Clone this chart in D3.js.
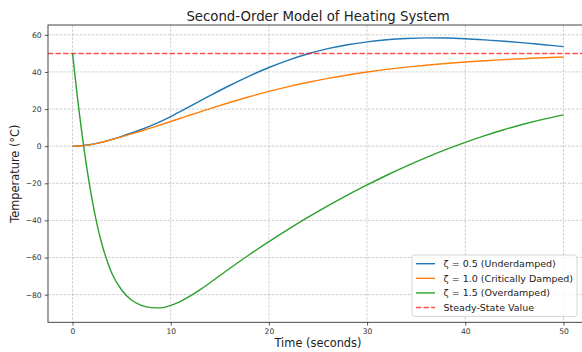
<!DOCTYPE html>
<html>
<head>
<meta charset="utf-8">
<script src="https://cdn.jsdelivr.net/npm/d3@7"></script>
<style>
	body{margin:0;background:#fff;}
	svg{display:block;font-family:"DejaVu Sans",sans-serif;}
</style>
</head>
<body onload="init()">
<svg id="grafica" width="582" height="352"></svg>
<script>
/*
	Modelo de segundo orden del sistema de calefaccion
*/

// tiempo (s)
var tiempo = [0, 0.5, 1, 1.5, 2, 2.5, 3, 3.5, 4, 5, 6, 7, 8, 9, 10, 11, 12, 13, 14, 16, 18, 20, 22, 24, 26, 28, 30, 32, 34, 36, 38, 40, 42, 44, 46, 48, 50];

// zeta = 0.5
var subamortiguado = [0, 0.07, 0.3, 0.62, 1.05, 1.6, 2.2, 2.9, 3.65, 5.3, 7.1, 9.0, 11.1, 13.4, 15.95, 18.7, 21.55, 24.4, 27.25, 32.7, 37.8, 42.4, 46.4, 49.8, 52.56, 54.66, 56.22, 57.32, 58.02, 58.36, 58.26, 57.86, 57.26, 56.56, 55.66, 54.66, 53.66];
// zeta = 1.0
var critico = [0, 0.07, 0.3, 0.6, 1.0, 1.5, 2.1, 2.78, 3.5, 5.0, 6.6, 8.2, 9.85, 11.55, 13.3, 15.05, 16.8, 18.53, 20.25, 23.55, 26.65, 29.5, 32.1, 34.44, 36.52, 38.36, 39.96, 41.36, 42.58, 43.64, 44.56, 45.36, 46.06, 46.66, 47.18, 47.64, 48.04];
// zeta = 1.5
var sobreamortiguado = [50, 26, 5, -13.25, -29, -42.25, -53, -61.5, -68.5, -77.5, -82.9, -85.8, -87.0, -87.1, -85.8, -83.6, -80.7, -77.3, -73.6, -65.9, -58.5, -51.4, -44.66, -38.24, -32.14, -26.36, -20.9, -15.66, -10.74, -6.14, -1.86, 2.1, 5.72, 9.0, 11.96, 14.6, 16.9];

var estacionario = 50;

var ticksX = [0, 10, 20, 30, 40, 50];
var ticksY = [-80, -60, -40, -20, 0, 20, 40, 60];

var series = [
	{nombre: "ζ = 0.5 (Underdamped)", valores: subamortiguado, color: "#1f77b4"},
	{nombre: "ζ = 1.0 (Critically Damped)", valores: critico, color: "#ff7f0e"},
	{nombre: "ζ = 1.5 (Overdamped)", valores: sobreamortiguado, color: "#2ca02c"}
];

var izq = 48, der = 588, arriba = 25, abajo = 322.3;

function init(){
	var lien = d3.select('#grafica');
	var x = d3.scaleLinear().domain([-2.5, 52.5]).range([izq, der]);
	var y = d3.scaleLinear().domain([-94.9, 65.3]).range([abajo, arriba]);

	rejilla(lien, x, y);
	curvas(lien, x, y);
	ejes(lien, x, y);
	leyenda(lien);
}

//Rejilla

function rejilla(lien, x, y){
	var g = lien.append("g").attr("stroke", "#b0b0b0").attr("stroke-opacity", 0.7)
		.attr("stroke-width", 0.8).attr("stroke-dasharray", "2.8,1.2");
	g.selectAll(".gx").data(ticksX).enter().append("line")
		.attr("x1", function(d){ return x(d); })
		.attr("x2", function(d){ return x(d); })
		.attr("y1", arriba)
		.attr("y2", abajo);
	g.selectAll(".gy").data(ticksY).enter().append("line")
		.attr("x1", izq)
		.attr("x2", der)
		.attr("y1", function(d){ return y(d); })
		.attr("y2", function(d){ return y(d); });
}

//Curvas

function curvas(lien, x, y){
	var linea = d3.line()
		.x(function(d, i){ return x(tiempo[i]); })
		.y(function(d){ return y(d); })
		.curve(d3.curveMonotoneX);
	for (var i = 0; i < series.length; i++) {
		lien.append("path")
			.attr("d", linea(series[i].valores))
			.attr("fill", "none")
			.attr("stroke", series[i].color)
			.attr("stroke-width", 1.4);
	}
	lien.append("line")
		.attr("x1", izq)
		.attr("x2", der)
		.attr("y1", y(estacionario))
		.attr("y2", y(estacionario))
		.attr("stroke", "#ff0000")
		.attr("stroke-opacity", 0.7)
		.attr("stroke-width", 1.5)
		.attr("stroke-dasharray", "5.3,2.3");
}

//Ejes

function ejes(lien, x, y){
	var ejeX = d3.axisBottom(x).tickValues(ticksX).tickSize(3.3).tickPadding(3)
		.tickFormat(function(d){ return d3.format("d")(d); });
	var ejeY = d3.axisLeft(y).tickValues(ticksY).tickSize(3.3).tickPadding(3)
		.tickFormat(function(d){ return d < 0 ? "\u2212" + Math.abs(d) : d; });

	var gx = lien.append("g").attr("transform", "translate(0," + abajo + ")").call(ejeX);
	var gy = lien.append("g").attr("transform", "translate(" + izq + ",0)").call(ejeY);
	[gx, gy].forEach(function(g){
		g.select(".domain").remove();
		g.selectAll(".tick line").attr("stroke", "#333").attr("stroke-width", 0.8);
		g.selectAll(".tick text").attr("fill", "#333").style("font-size", "7.6px")
			.style("font-family", "'DejaVu Sans',sans-serif");
	});

	// marco
	lien.append("rect")
		.attr("x", izq)
		.attr("y", arriba)
		.attr("width", der - izq)
		.attr("height", abajo - arriba)
		.attr("fill", "none")
		.attr("stroke", "#333")
		.attr("stroke-width", 0.9);

	lien.append("text")
		.attr("x", (izq + der) / 2)
		.attr("y", 20.5)
		.attr("text-anchor", "middle")
		.attr("fill", "#222")
		.style("font-size", "13.3px")
		.text("Second-Order Model of Heating System");

	lien.append("text")
		.attr("x", (izq + der) / 2)
		.attr("y", 347)
		.attr("text-anchor", "middle")
		.attr("fill", "#222")
		.style("font-size", "11.4px")
		.text("Time (seconds)");

	lien.append("text")
		.attr("transform", "translate(19," + ((arriba + abajo) / 2) + ") rotate(-90)")
		.attr("text-anchor", "middle")
		.attr("fill", "#222")
		.style("font-size", "11.4px")
		.text("Temperature (°C)");
}

//Leyenda

function leyenda(lien){
	var entradas = series.map(function(s){ return {nombre: s.nombre, color: s.color, guion: null}; });
	entradas.push({nombre: "Steady-State Value", color: "#ff0000", guion: "5.3,2.3"});

	var x0 = 412, y0 = 255, paso = 14.6;
	var caja = lien.append("rect")
		.attr("x", x0)
		.attr("y", y0)
		.attr("rx", 2.5)
		.attr("fill", "#fff")
		.attr("fill-opacity", 0.8)
		.attr("stroke", "#cccccc")
		.attr("stroke-width", 0.8);

	var maximo = 0;
	for (var i = 0; i < entradas.length; i++) {
		var yc = y0 + 8.7 + paso * i;
		lien.append("line")
			.attr("x1", x0 + 4)
			.attr("x2", x0 + 23)
			.attr("y1", yc)
			.attr("y2", yc)
			.attr("stroke", entradas[i].color)
			.attr("stroke-opacity", entradas[i].guion ? 0.7 : 1)
			.attr("stroke-width", entradas[i].guion ? 1.5 : 1.4)
			.attr("stroke-dasharray", entradas[i].guion);
		var t = lien.append("text")
			.attr("x", x0 + 31.5)
			.attr("y", yc + 3.4)
			.attr("fill", "#222")
			.style("font-size", "9.5px")
			.text(entradas[i].nombre);
		maximo = Math.max(maximo, t.node().getComputedTextLength());
	}
	caja.attr("width", 31.5 + maximo + 4)
		.attr("height", paso * entradas.length + 3);
}
</script>
</body>
</html>
